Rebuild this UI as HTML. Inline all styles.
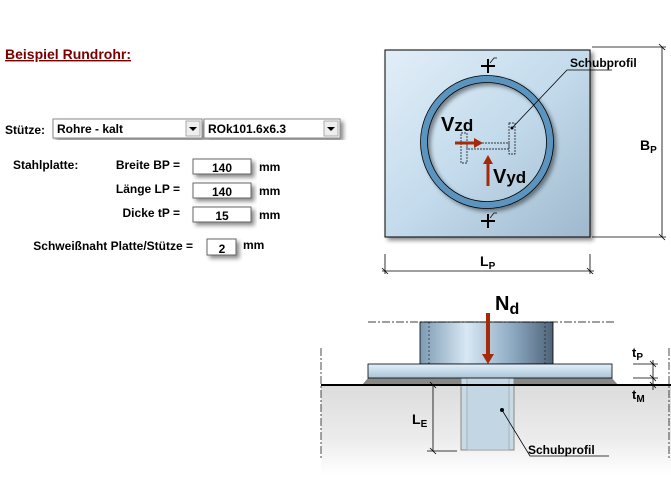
<!DOCTYPE html>
<html><head><meta charset="utf-8"><style>
body{margin:0;background:#fff;width:671px;height:485px;overflow:hidden;font-family:"Liberation Sans",Arial,sans-serif}
svg{position:absolute;left:0;top:0}
text{font-family:"Liberation Sans",Arial,sans-serif;font-weight:bold}
</style></head><body>
<svg width="671" height="485" viewBox="0 0 671 485">
<defs>
<linearGradient id="pl" x1="0" y1="0" x2="1" y2="1"><stop offset="0" stop-color="#e2eef8"/><stop offset="0.5" stop-color="#c3dbec"/><stop offset="1" stop-color="#9fb8cc"/></linearGradient>
<linearGradient id="col" x1="0" x2="1"><stop offset="0" stop-color="#7c9ab3"/><stop offset="0.35" stop-color="#d8e8f4"/><stop offset="0.7" stop-color="#8ca9c2"/><stop offset="1" stop-color="#4e6377"/></linearGradient>
<linearGradient id="bp" x1="0" y1="0" x2="0" y2="1"><stop offset="0" stop-color="#e2f0fa"/><stop offset="1" stop-color="#a9c4d8"/></linearGradient>
<linearGradient id="gr" x1="0" y1="0" x2="0" y2="1"><stop offset="0" stop-color="#dcdcdc"/><stop offset="0.6" stop-color="#ececec"/><stop offset="1" stop-color="#fff"/></linearGradient>
<filter id="sh"><feDropShadow dx="3" dy="3" stdDeviation="2" flood-opacity="0.45"/></filter>
</defs>
<!-- form -->
<text x="5" y="59" font-size="14" fill="#7a0000" text-decoration="underline">Beispiel Rundrohr:</text>
<text x="5" y="134" font-size="12">Stütze:</text>
<g filter="url(#sh)">
<rect x="53" y="119" width="149" height="19" fill="#fff" stroke="#888"/>
<rect x="204" y="119" width="136" height="19" fill="#fff" stroke="#888"/>
</g>
<text x="57" y="133" font-size="12">Rohre - kalt</text>
<text x="208" y="133" font-size="12">ROk101.6x6.3</text>
<rect x="186" y="121" width="14" height="15" fill="#eee" stroke="#aaa"/><path d="M189 127h8l-4 4z"/>
<rect x="324" y="121" width="14" height="15" fill="#eee" stroke="#aaa"/><path d="M327 127h8l-4 4z"/>
<text x="13" y="169" font-size="12">Stahlplatte:</text>
<text x="180" y="169" font-size="12" text-anchor="end">Breite BP =</text>
<text x="180" y="193" font-size="12" text-anchor="end">Länge LP =</text>
<text x="180" y="217" font-size="12" text-anchor="end">Dicke tP =</text>
<text x="193" y="250" font-size="12" text-anchor="end">Schweißnaht Platte/Stütze =</text>
<g filter="url(#sh)" fill="#fff" stroke="#666">
<rect x="193" y="159" width="58" height="15"/><rect x="193" y="183" width="58" height="15"/><rect x="193" y="207" width="58" height="15"/><rect x="207" y="239" width="29" height="16"/>
</g>
<g font-size="12" text-anchor="middle"><text x="222" y="172">140</text><text x="222" y="196">140</text><text x="222" y="220">15</text><text x="222" y="253">2</text></g>
<g font-size="12"><text x="259" y="171">mm</text><text x="259" y="195">mm</text><text x="259" y="219">mm</text><text x="243" y="249">mm</text></g>
<!-- top view -->
<rect x="385" y="50" width="205" height="187" fill="url(#pl)" stroke="#000" filter="url(#sh)"/>
<circle cx="487" cy="142" r="63" fill="none" stroke="#5b94c0" stroke-width="7" filter="url(#sh)"/>
<circle cx="487" cy="142" r="66.5" fill="none" stroke="#000" stroke-width="0.8"/>
<circle cx="487" cy="142" r="59.5" fill="none" stroke="#000" stroke-width="0.8"/>
<g fill="none" stroke="#000" stroke-width="0.7" stroke-dasharray="2,1">
<path d="M461 133h6v30h-6zM509 123h6v31h-6zM467 143h42v6h-42z"/>
</g>
<path d="M512 128L567 70H612" stroke="#000" fill="none" stroke-width="0.8"/><circle cx="512" cy="128" r="1.5"/>
<text x="570" y="67" font-size="12">Schubprofil</text>
<path d="M455 143h20" stroke="#a52a0a" stroke-width="3"/><path d="M474 138l9 5-9 5z" fill="#a52a0a"/>
<path d="M488 186v-22" stroke="#a52a0a" stroke-width="3"/><path d="M483 164l5-9 5 9z" fill="#a52a0a"/>
<text x="441" y="131" font-size="20">V<tspan font-size="17">zd</tspan></text>
<text x="493" y="183" font-size="20">V<tspan font-size="17">yd</tspan></text>
<g stroke="#000" stroke-width="2"><path d="M481 66h14M488 59v14M481 221h14M488 214v14"/></g>
<path d="M490 63l4-5h3M490 218l4-5h3" stroke="#000" fill="none" stroke-width="0.7"/>
<g stroke="#000" stroke-width="0.8" fill="none">
<path d="M592 47h74M592 237h74M662 47v190M385 254v20M590 254v20M382 271h212"/>
<path d="M659 44l6 6M659 234l6 6M382 268l6 6M587 268l6 6"/>
</g>
<text x="640" y="150" font-size="14">B<tspan font-size="10" dy="3">P</tspan></text>
<text x="480" y="266" font-size="14">L<tspan font-size="10" dy="3">P</tspan></text>
<!-- side view -->
<rect x="321" y="385" width="350" height="90" fill="url(#gr)"/>
<path d="M362 385l6-7h244l6 7z" fill="#888"/>
<rect x="461" y="378" width="53" height="72" fill="#c8dae6" stroke="#888"/>
<rect x="467" y="378" width="42" height="72" fill="#c2d6e4" stroke="#999" stroke-width="0.6"/>
<rect x="420" y="322" width="133" height="42" fill="url(#col)" stroke="#000" stroke-width="0.8"/>
<path d="M429 322v42M545 322v42" stroke="#222" stroke-dasharray="2,2" stroke-width="0.7"/>
<rect x="368" y="364" width="244" height="14" fill="url(#bp)" stroke="#000" stroke-width="0.8"/>
<path d="M321 385h350" stroke="#000" stroke-width="2"/>
<g stroke="#000" stroke-width="0.7" stroke-dasharray="8,2,2,2" fill="none">
<path d="M368 322h246M321 348v110M669 348v110"/></g>
<path d="M488 313v44" stroke="#a52a0a" stroke-width="4"/><path d="M482 354l6 10 6-10z" fill="#a52a0a"/>
<text x="495" y="310" font-size="20">N<tspan font-size="16" dy="4">d</tspan></text>
<g stroke="#000" stroke-width="0.8" fill="none">
<path d="M633 364h25M633 378h25M653 360v30M650 361l6 6M650 375l6 6M650 382l6 6"/>
<path d="M427 385h4M433 385v66M427 451h30M430 382l6 6M430 448l6 6"/>
<path d="M502 410L530 456H609"/></g>
<circle cx="502" cy="410" r="2"/>
<text x="632" y="357" font-size="13">t<tspan font-size="10" dy="3">P</tspan></text>
<text x="632" y="399" font-size="13">t<tspan font-size="10" dy="3">M</tspan></text>
<text x="412" y="424" font-size="14">L<tspan font-size="10" dy="3">E</tspan></text>
<text x="528" y="454" font-size="12">Schubprofil</text>
</svg>
</body></html>
